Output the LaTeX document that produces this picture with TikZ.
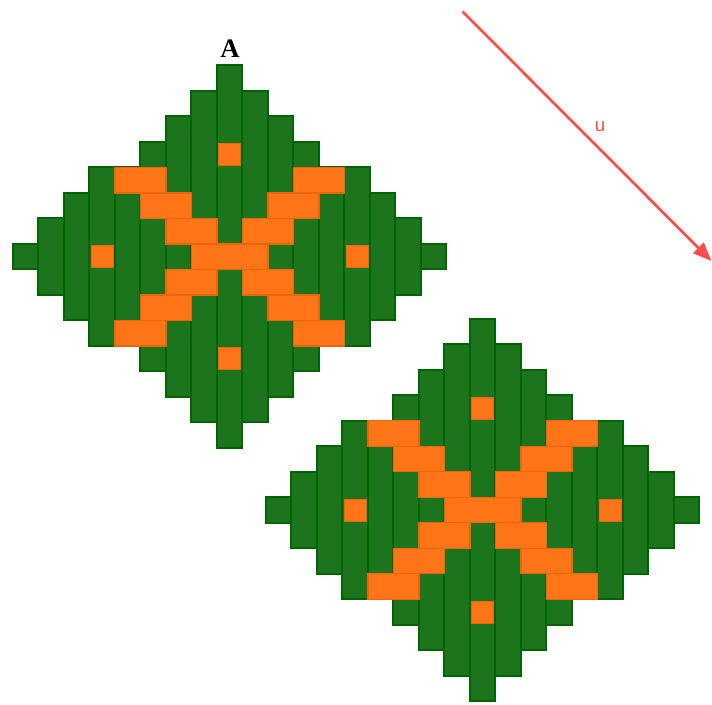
\documentclass[tikz,border=0pt]{standalone}
\usepackage{fontspec}
\setmainfont{Liberation Serif}
\newfontfamily\vecfont{Liberation Sans}
\usetikzlibrary{arrows.meta}

\definecolor{leafgreen}{RGB}{28,117,28}
\definecolor{darkleaf}{RGB}{0,100,0}
\definecolor{tileorange}{RGB}{255,117,24}
\definecolor{darkorange}{RGB}{236,100,12}
\definecolor{vecred}{RGB}{255,77,77}

\tikzset{
	strip/.style={draw=darkleaf, fill=leafgreen, line width=1.5pt},
	xbar/.style={draw=darkorange, fill=tileorange, line width=1pt},
	spot/.style={draw=darkorange, fill=tileorange, line width=0.5pt},
	vec/.style={draw=vecred, line width=2pt, -{Triangle[length=14pt,width=11pt]}}}
\tikzset{every picture/.style={line width=0.75pt}}

\begin{document}
\begin{tikzpicture}[x=0.75pt,y=0.75pt,yscale=-1,xscale=1]
	\useasboundingbox (0,0) rectangle (712,704);

	% tile A and its copy moved along u, cell size 25.5
	\foreach \cx/\cy in {229.7/256.7,482.7/510}{
		%Green strips, one per column
		\foreach \k/\h in {-8/1,-7/3,-6/5,-5/7,-4/7,-3/9,-2/11,-1/13,0/15,1/13,2/11,3/9,4/7,5/7,6/5,7/3,8/1}
			\draw [strip] ({\cx+(\k-0.5)*25.5},{\cy-\h*12.75}) rectangle ({\cx+(\k+0.5)*25.5},{\cy+\h*12.75});
		%Orange cross
		\foreach \row/\xa/\xb in {-3/-4.5/-2.5,-3/2.5/4.5,-2/-3.5/-1.5,-2/1.5/3.5,-1/-2.5/-0.5,-1/0.5/2.5,0/-1.5/1.5,1/-2.5/-0.5,1/0.5/2.5,2/-3.5/-1.5,2/1.5/3.5,3/-4.5/-2.5,3/2.5/4.5}
			\draw [xbar] ({\cx+\xa*25.5},{\cy+(\row-0.5)*25.5}) rectangle ({\cx+\xb*25.5},{\cy+(\row+0.5)*25.5});
		%Orange spots
		\foreach \i/\j in {0/-4,0/4,-5/0,5/0}
			\draw [spot] ({\cx+\i*25.5-11},{\cy+\j*25.5-11}) rectangle ++(22,22);
	}

	%Vector u
	\coordinate (ustart) at (462.5,11.5);
	\coordinate (uend) at (711.5,261);
	\draw [vec] (ustart) -- (uend);

	% Text Node
	\node [text=vecred, font=\vecfont\fontsize{14}{14}\selectfont] (ulabel) at (600,127) {u};
	% Text Node
	\node [font=\fontsize{20}{20}\selectfont\bfseries] (tileA) at (230,49) {A};
\end{tikzpicture}
\end{document}
